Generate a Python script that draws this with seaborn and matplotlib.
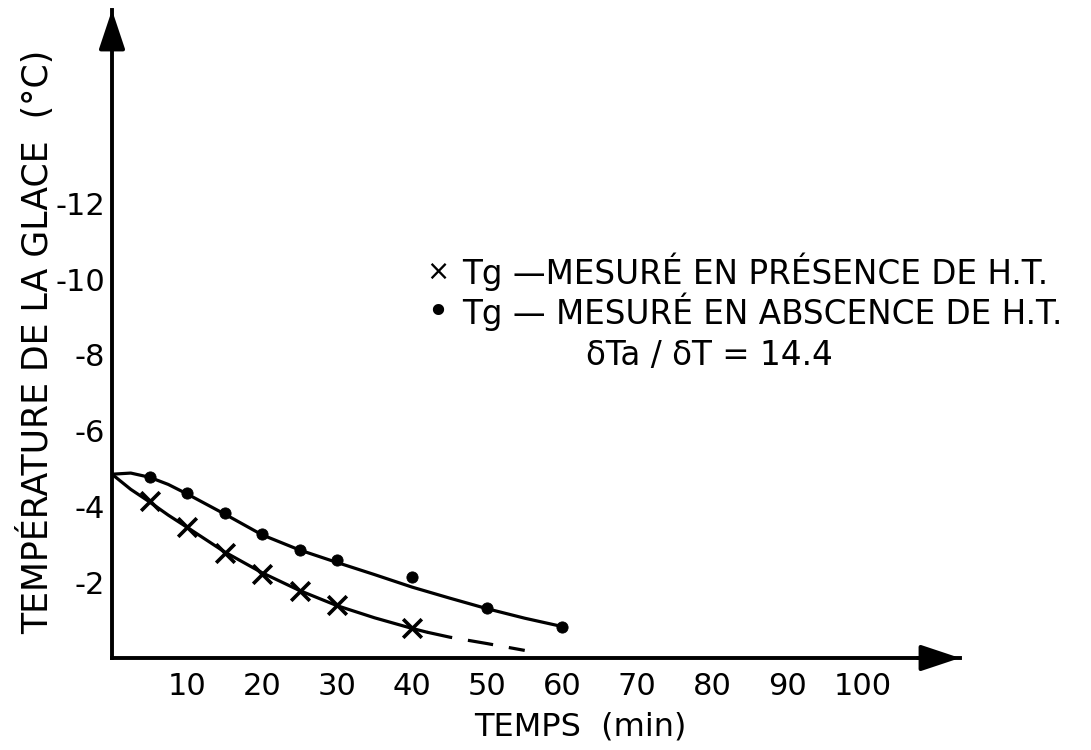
import numpy as np
import pandas as pd
import seaborn as sns
import matplotlib.pyplot as plt

# points mesures (temps en min, temperature en degC)
temps_avec = [5, 10, 15, 20, 25, 30, 40]
tg_avec = [-4.15, -3.45, -2.78, -2.22, -1.78, -1.40, -0.78]
temps_sans = [5, 10, 15, 20, 25, 30, 40, 50, 60]
tg_sans = [-4.77, -4.36, -3.82, -3.26, -2.85, -2.59, -2.15, -1.31, -0.83]

# courbes tracees a la main
courbe_avec_x = [0, 2.5, 5, 7.5, 10, 15, 20, 25, 30, 35, 40, 42]
courbe_avec_y = [-4.85, -4.45, -4.12, -3.77, -3.45, -2.80, -2.25, -1.78, -1.38, -1.06, -0.78, -0.68]
courbe_ext_x = [42, 45, 50, 55]
courbe_ext_y = [-0.68, -0.55, -0.38, -0.20]
courbe_sans_x = [0, 2.5, 5, 7.5, 10, 15, 20, 25, 30, 35, 40, 45, 50, 55, 60]
courbe_sans_y = [-4.85, -4.88, -4.77, -4.58, -4.33, -3.80, -3.25, -2.85, -2.52, -2.20, -1.87, -1.58, -1.30, -1.05, -0.83]

x_ticks = [10, 20, 30, 40, 50, 60, 70, 80, 90, 100]
y_ticks = [-2, -4, -6, -8, -10, -12]
y_labels = ["-2", "-4", "-6", "-8", "-10", "-12"]

sns.set_style("white")
plt.rcParams['font.family'] = ['DejaVu Sans']
plt.rcParams['text.color'] = 'black'
plt.rcParams['xtick.color'] = 'black'
plt.rcParams['ytick.color'] = 'black'

W, H = 1091, 750
fig = plt.figure(figsize=(W / 100, H / 100), dpi=100)
ax = fig.add_axes([112 / W, 1 - 658 / H, (960 - 112) / W, (658 - 10) / H])

sns.lineplot(x=courbe_avec_x, y=courbe_avec_y, ax=ax, color='black', lw=2.3,
             estimator=None, sort=False)
sns.lineplot(x=courbe_sans_x, y=courbe_sans_y, ax=ax, color='black', lw=2.3,
             estimator=None, sort=False)
sns.lineplot(x=courbe_ext_x, y=courbe_ext_y, ax=ax, color='black', lw=2.3,
             estimator=None, sort=False, linestyle=(0, (8, 5)))
sns.scatterplot(x=temps_sans, y=tg_sans, ax=ax, color='black', s=65,
                edgecolor='black', zorder=5)
sns.scatterplot(x=temps_avec, y=tg_avec, ax=ax, color='black', marker='x', s=180,
                linewidth=2.6, zorder=5)

ax.set_xlim(0, 113)
ax.set_ylim(0, -17.1)

ax.set_xticks(x_ticks)
ax.set_xticklabels([str(t) for t in x_ticks])
ax.set_yticks(y_ticks)
ax.set_yticklabels(y_labels)
ax.tick_params(direction='in', length=9, width=2, labelsize=22, color='black',
               labelcolor='black')
ax.tick_params(axis='y', pad=5)
ax.tick_params(axis='x', pad=10)

for side in ['top', 'right']:
    ax.spines[side].set_visible(False)
for side in ['left', 'bottom']:
    ax.spines[side].set_linewidth(2.8)
    ax.spines[side].set_color('black')

# fleches des axes
ax.annotate('', xy=(1, 0), xytext=(0.95, 0), xycoords='axes fraction',
            arrowprops=dict(arrowstyle='-|>,head_length=1.2,head_width=0.4',
                            color='black', lw=2.8, mutation_scale=20,
                            shrinkA=0, shrinkB=0), annotation_clip=False)
ax.annotate('', xy=(0, 1), xytext=(0, 0.95), xycoords='axes fraction',
            arrowprops=dict(arrowstyle='-|>,head_length=1.2,head_width=0.4',
                            color='black', lw=2.8, mutation_scale=20,
                            shrinkA=0, shrinkB=0), annotation_clip=False)

fig.text(36 / W, 1 - 342 / H, "TEMPÉRATURE DE LA GLACE  (°C)", rotation=90,
         ha='center', va='center', fontsize=25)
fig.text(580 / W, 1 - 727 / H, "TEMPS  (min)", ha='center', va='center', fontsize=23)

fig.text(438 / W, 1 - 272 / H, "×", ha='center', va='center', fontsize=20)
fig.text(462 / W, 1 - 272 / H, "Tg —MESURÉ EN PRÉSENCE DE H.T.", ha='left',
         va='center', fontsize=23.5)
fig.text(438 / W, 1 - 313 / H, "•", ha='center', va='center', fontsize=28)
fig.text(462 / W, 1 - 312 / H, "Tg — MESURÉ EN ABSCENCE DE H.T.", ha='left',
         va='center', fontsize=23.5)
fig.text(586 / W, 1 - 356 / H, "δTa / δT = 14.4", ha='left', va='center', fontsize=23.5)

fig.savefig("out.png", dpi=100)
